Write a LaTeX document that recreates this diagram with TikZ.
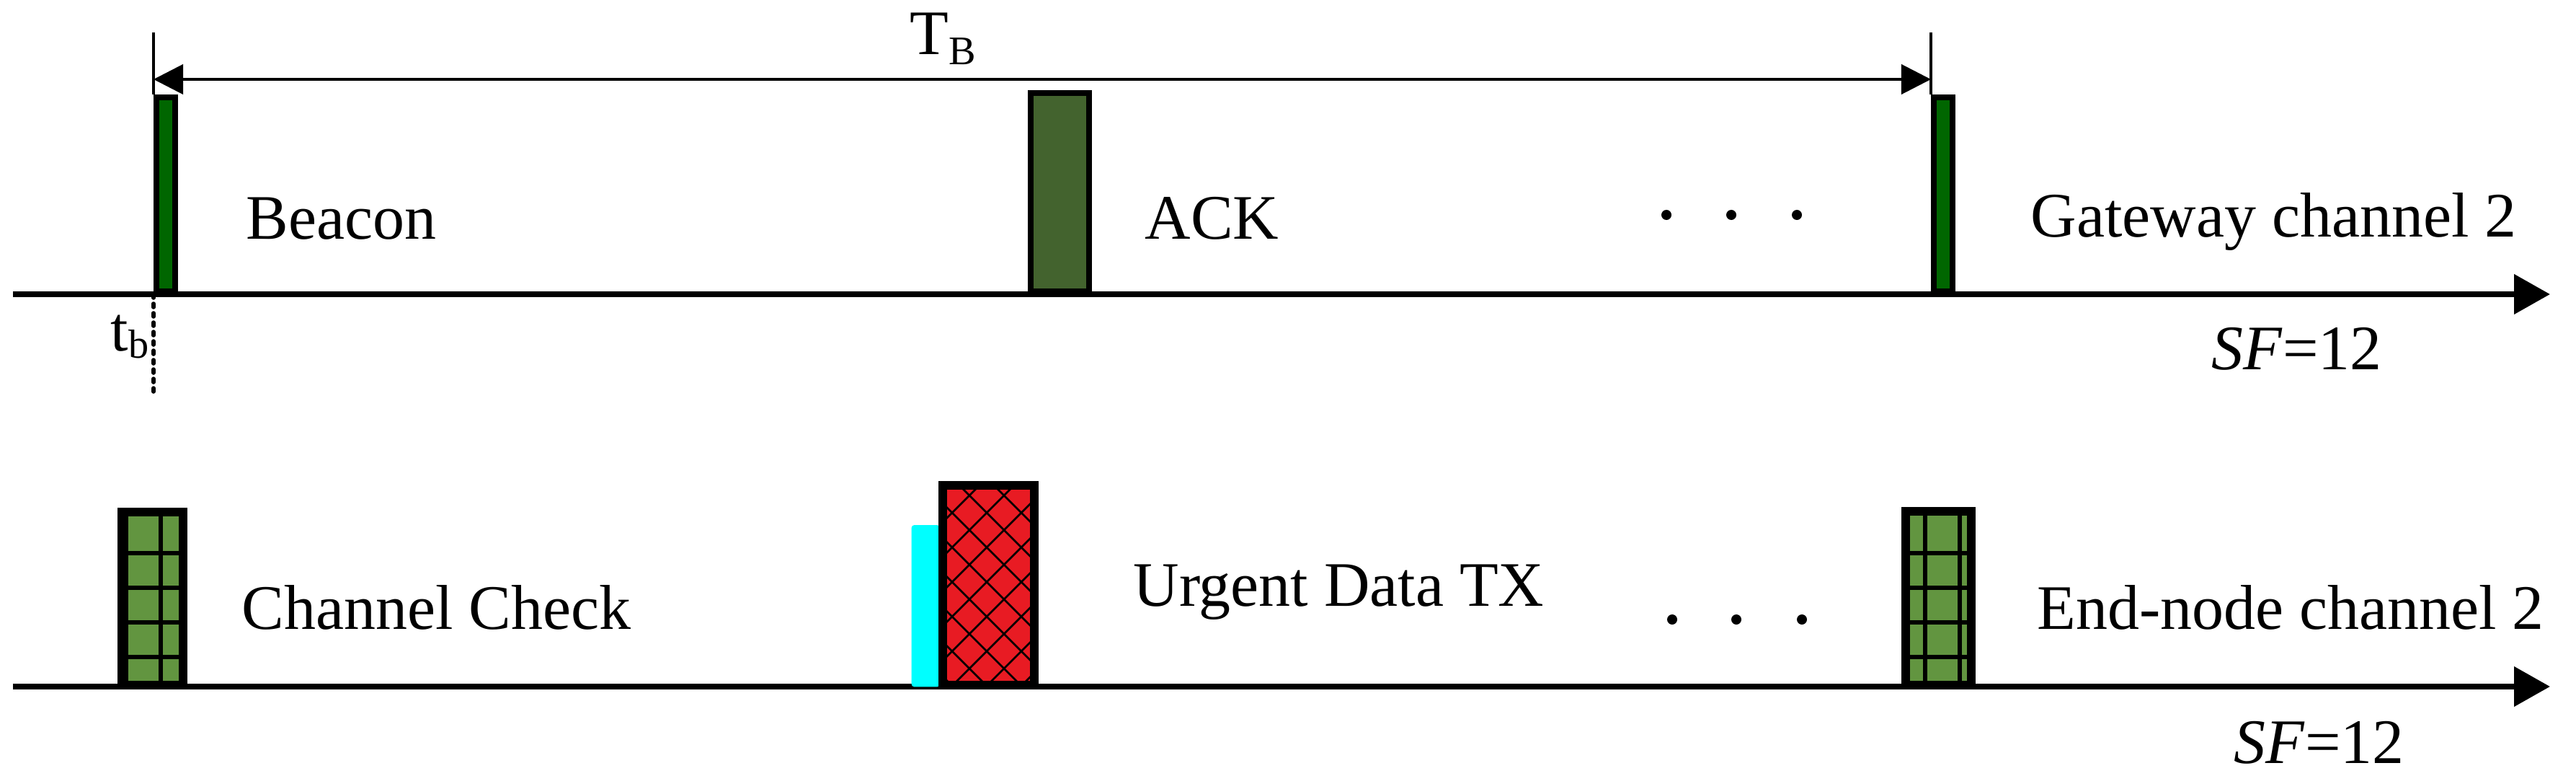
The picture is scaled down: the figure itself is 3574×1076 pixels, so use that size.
\documentclass[tikz,border=0pt]{standalone}
\usepackage{fontspec}
\setmainfont{Liberation Serif}
\usetikzlibrary{arrows.meta}
\definecolor{beacongreen}{RGB}{0,102,0}
\definecolor{ackgreen}{RGB}{67,99,46}
\definecolor{gridgreen}{RGB}{98,149,64}
\definecolor{urgentred}{RGB}{232,27,35}
\definecolor{cyanbar}{RGB}{0,255,255}
\begin{document}
\begin{tikzpicture}[x=0.01cm,y=-0.01cm,
  lbl/.style={anchor=base west, inner sep=0pt, font=\fontsize{25}{30}\selectfont},
  slotbox/.style={draw=black, line width=0.08cm, inner sep=0pt, anchor=south west},
  border/.style={draw=black, line width=0.08cm},
  axisline/.style={line width=0.08cm, -{Triangle[length=0.5cm,width=0.54cm]}},
  dimline/.style={line width=0.04cm},
  dimarrow/.style={line width=0.04cm, {Triangle[length=0.41cm,width=0.41cm]}-{Triangle[length=0.41cm,width=0.41cm]}},
  dotline/.style={line width=0.055cm, line cap=round, dash pattern=on 0.05cm off 0.08cm},
  gridline/.style={line width=0.055cm},
  hatchline/.style={line width=0.025cm},
  dotmark/.style={circle, fill=black, inner sep=0pt, minimum size=0.14cm}
  ]
\useasboundingbox (0,0) rectangle (3574,1076);

% axes
\coordinate (a1s) at (18,408);
\coordinate (a1e) at (3538,408);
\coordinate (a2s) at (18,952);
\coordinate (a2e) at (3538,952);
\draw[axisline] (a1s) -- (a1e);
\draw[axisline] (a2s) -- (a2e);

% gateway channel boxes
\node[slotbox, fill=beacongreen, minimum width=0.26cm, minimum height=2.69cm] (beacon) at (213,408) {};
\node[slotbox, fill=ackgreen, minimum width=0.81cm, minimum height=2.75cm] (ack) at (1426,408) {};
\node[slotbox, fill=beacongreen, minimum width=0.26cm, minimum height=2.69cm] (gw) at (2679,408) {};

% T_B dimension
\coordinate (tbLtop) at (213,45);
\coordinate (tbRtop) at (2679,45);
\coordinate (tbL) at (213,110);
\coordinate (tbR) at (2679,110);
\draw[dimline] (tbLtop) -- (beacon.north west);
\draw[dimline] (tbRtop) -- (gw.north west);
\draw[dimarrow] (tbL) -- (tbR);
\coordinate (tbdot) at (213,548);
\draw[dotline] (beacon.south west) -- (tbdot);

% end-node channel boxes
\node[slotbox, fill=gridgreen, minimum width=0.81cm, minimum height=2.36cm] (cc) at (167,952) {};
\begin{scope}
  \clip (cc.south west) rectangle (cc.north east);
  \foreach \gx in {175,223} \draw[gridline] (\gx,700) -- (\gx,960);
  \foreach \gy in {767,815,863,911} \draw[gridline] (150,\gy) -- (260,\gy);
\end{scope}
\draw[border] (cc.south west) rectangle (cc.north east);

\node[fill=cyanbar, anchor=south west, inner sep=0pt, minimum width=0.39cm, minimum height=2.24cm, rounded corners=1pt] (cyan) at (1264,953) {};
\node[slotbox, fill=urgentred, minimum width=1.23cm, minimum height=2.73cm] (red) at (1306,952) {};
\begin{scope}
  \clip (red.south west) rectangle (red.north east);
  \foreach \k in {-3,...,8} \draw[hatchline] (1250,{1250-658+48*\k}) -- (1500,{1500-658+48*\k});
  \foreach \k in {-3,...,9} \draw[hatchline] (1250,{-1250+2032+48*\k}) -- (1500,{-1500+2032+48*\k});
\end{scope}
\draw[border] (red.south west) rectangle (red.north east);

\node[slotbox, fill=gridgreen, minimum width=0.87cm, minimum height=2.37cm] (endn) at (2642,952) {};
\begin{scope}
  \clip (endn.south west) rectangle (endn.north east);
  \foreach \gx in {2671,2719} \draw[gridline] (\gx,700) -- (\gx,960);
  \foreach \gy in {767,815,863,911} \draw[gridline] (2620,\gy) -- (2760,\gy);
\end{scope}
\draw[border] (endn.south west) rectangle (endn.north east);

% dots
\node[dotmark] (d1) at (2312,298) {};
\node[dotmark] (d2) at (2402,298) {};
\node[dotmark] (d3) at (2493,298) {};
\node[dotmark] (d4) at (2320,859) {};
\node[dotmark] (d5) at (2409,859) {};
\node[dotmark] (d6) at (2500,859) {};

% labels
\node[lbl] (tblbl) at (1262,76) {T\raisebox{-0.13cm}{\fontsize{16}{18}\selectfont B}};
\node[lbl] (tsmall) at (153,486) {t\raisebox{-0.10cm}{\fontsize{16}{18}\selectfont b}};
\node[lbl] (beaconlbl) at (341,332) {Beacon};
\node[lbl] (acklbl) at (1588,332) {ACK};
\node[lbl] (gwlbl) at (2817,328) {Gateway channel 2};
\node[lbl] (sf1) at (3068,512) {\textit{SF}=12};
\node[lbl] (cclbl) at (335,872) {Channel Check};
\node[lbl] (udlbl) at (1572,840) {Urgent Data TX};
\node[lbl] (endlbl) at (2826,872) {End-node channel 2};
\node[lbl] (sf2) at (3099,1058) {\textit{SF}=12};
\end{tikzpicture}
\end{document}
